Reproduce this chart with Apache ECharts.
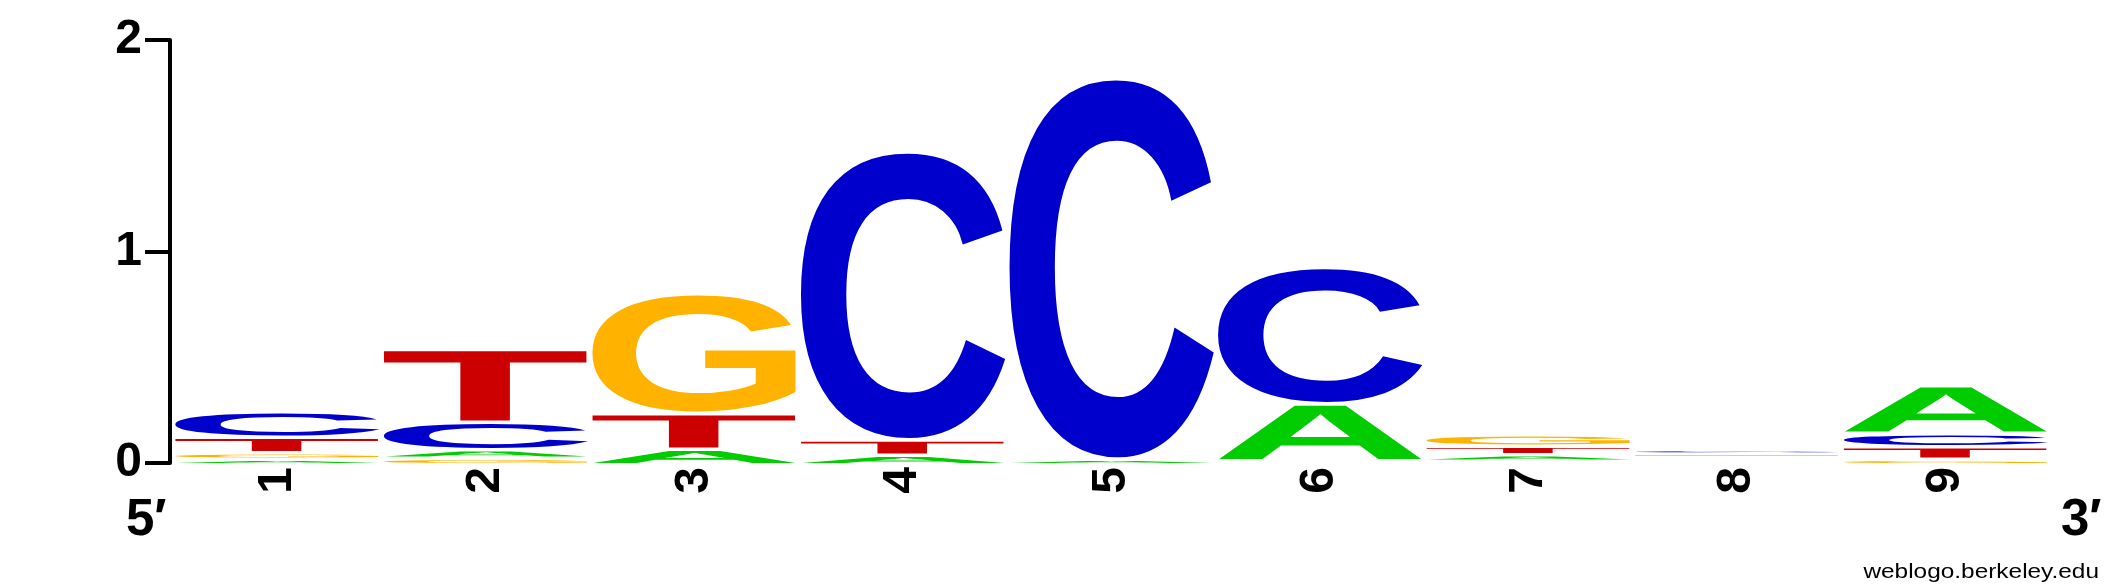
<!DOCTYPE html>
<html>
<head>
<meta charset="utf-8">
<script src="https://cdn.jsdelivr.net/npm/echarts@6/dist/echarts.min.js"></script>
<style>
  html, body { margin: 0; padding: 0; background: #fff; }
  #logo { width: 2125px; height: 588px; }
</style>
</head>
<body>
<div id="logo"></div>
<script>
// sequence positions
var positions = ['1', '2', '3', '4', '5', '6', '7', '8', '9'];
var yTicks = [0, 1, 2];

// letter heights (bits) per position
var bitsA = [0.0095, 0.024, 0.057, 0.028, 0.0095, 0.255, 0.014, 0.0002, 0.21];
var bitsC = [0.104, 0.113, 0, 1.348, 1.787, 0.629, 0.0002, 0.005, 0.045];
var bitsG = [0.014, 0.014, 0.55, 0, 0, 0.0002, 0.038, 0.0002, 0.0095];
var bitsT = [0.057, 0.331, 0.153, 0.057, 0, 0, 0.024, 0.0002, 0.043];

var bases = ['A', 'C', 'G', 'T'];
var baseColors = { A: '#00CC00', C: '#0000CC', G: '#FFB300', T: '#CC0000' };
var baseBits = { A: bitsA, C: bitsC, G: bitsG, T: bitsT };

var FONT = '"Liberation Sans", Arial, Helvetica, sans-serif';
var GAP = 3.5;   // px between stacked letters
var INSET = 2;   // px at each side of a column

// glyph ink box, measured once per letter
var metricsCache = {};
function glyphBox(ch) {
  if (metricsCache[ch]) return metricsCache[ch];
  var ctx = document.createElement('canvas').getContext('2d');
  ctx.font = 'bold 200px ' + FONT;
  ctx.textAlign = 'center';
  ctx.textBaseline = 'middle';
  var m = ctx.measureText(ch);
  metricsCache[ch] = {
    l: m.actualBoundingBoxLeft, r: m.actualBoundingBoxRight,
    a: m.actualBoundingBoxAscent, d: m.actualBoundingBoxDescent
  };
  return metricsCache[ch];
}

function letterGlyph(ch, left, right, top, bottom) {
  var g = glyphBox(ch);
  var sx = (right - left) / (g.l + g.r);
  var sy = Math.max(bottom - top, 0.01) / (g.a + g.d);
  return {
    type: 'text',
    x: left + g.l * sx,
    y: top + g.a * sy,
    scaleX: sx,
    scaleY: sy,
    silent: true,
    style: {
      text: ch, x: 0, y: 0,
      fontSize: 200, fontWeight: 'bold', fontFamily: FONT,
      fill: baseColors[ch], align: 'center', verticalAlign: 'middle'
    }
  };
}

var chart = echarts.init(document.getElementById('logo'), null, { renderer: 'canvas' });

var option = {
  animation: false,
  backgroundColor: '#fff',
  grid: { left: 173, right: 75, top: 40, bottom: 125 },
  xAxis: {
    type: 'category',
    data: positions,
    axisLine: { show: false },
    axisTick: { show: false },
    axisLabel: {
      rotate: 90, margin: 4, color: '#000',
      fontSize: 48, fontWeight: 'bold', fontFamily: FONT
    }
  },
  yAxis: {
    type: 'value', min: 0, max: 2, interval: 1, offset: 3,
    axisLine: { show: true, lineStyle: { color: '#000', width: 4 } },
    axisTick: { show: true, length: 25, lineStyle: { color: '#000', width: 4 } },
    axisLabel: {
      margin: 28, color: '#000',
      fontSize: 48, fontWeight: 'bold', fontFamily: FONT,
      formatter: function (v) { return yTicks.indexOf(v) >= 0 ? String(v) : ''; }
    },
    splitLine: { show: false }
  },
  series: [{
    type: 'custom',
    silent: true,
    data: positions.map(function (p, i) { return [i]; }),
    renderItem: function (params, api) {
      var col = api.value(0);
      var base = api.coord([col, 0]);
      var band = api.size([1, 0])[0];
      var left = base[0] - band / 2 + INSET;
      var right = base[0] + band / 2 - INSET;
      var stack = bases
        .map(function (b) { return { b: b, v: baseBits[b][col] }; })
        .filter(function (s) { return s.v > 0; })
        .sort(function (a, b) { return a.v - b.v; });
      var bottom = base[1];
      var children = [];
      stack.forEach(function (s) {
        var h = api.size([0, s.v])[1];
        children.push(letterGlyph(s.b, left, right, bottom - h, bottom));
        bottom = bottom - h - GAP;
      });
      return { type: 'group', children: children };
    }
  }],
  graphic: [
    {
      type: 'text', x: 126, y: 521, silent: true,
      style: { text: '5\u2032', fontSize: 51, fontWeight: 'bold', fontFamily: FONT,
               fill: '#000', align: 'left', verticalAlign: 'middle' }
    },
    {
      type: 'text', x: 2061, y: 521, silent: true,
      style: { text: '3\u2032', fontSize: 51, fontWeight: 'bold', fontFamily: FONT,
               fill: '#000', align: 'left', verticalAlign: 'middle' }
    },
    {
      type: 'text', x: 2099, y: 572, scaleX: 1.22, silent: true,
      style: { text: 'weblogo.berkeley.edu', fontSize: 20, fontFamily: FONT,
               fill: '#000', align: 'right', verticalAlign: 'middle' }
    }
  ]
};

chart.setOption(option);
</script>
</body>
</html>
